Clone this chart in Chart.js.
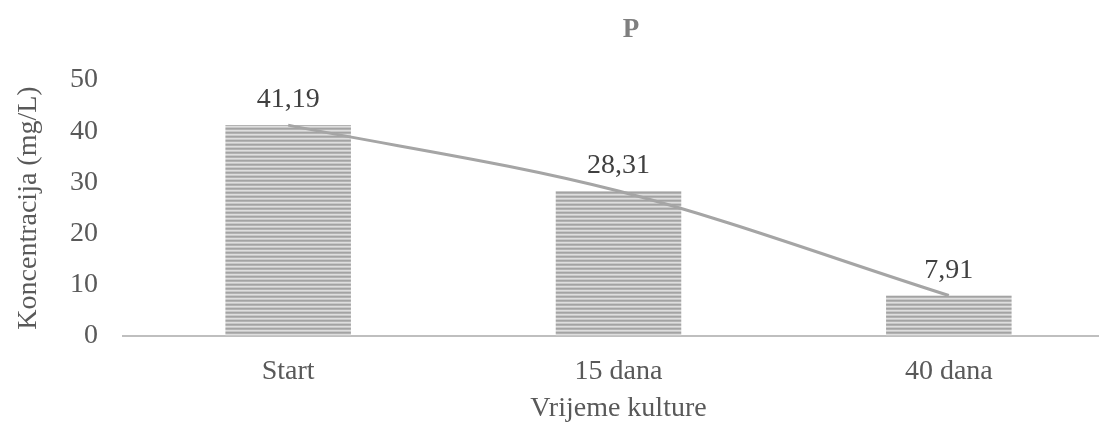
<!DOCTYPE html>
<html>
<head>
<meta charset="utf-8">
<script src="https://cdn.jsdelivr.net/npm/chart.js@4.4.1/dist/chart.umd.min.js"></script>
<style>
  html, body { margin: 0; padding: 0; background: #fff; overflow: hidden; }
  #wrap { width: 1125px; height: 425px; position: relative; }
</style>
</head>
<body>
<div id="wrap"><canvas id="c"></canvas></div>
<script>
const categories = ['Start', '15 dana', '40 dana'];
const values = [41.19, 28.31, 7.91];
const valueLabels = ['41,19', '28,31', '7,91'];
const yTicks = [0, 10, 20, 30, 40, 50];
const chartTitle = 'P';
const yTitle = 'Koncentracija (mg/L)';
const xTitle = 'Vrijeme kulture';

const FONT = "'Liberation Serif', 'Times New Roman', serif";

function makePattern() {
  const p = document.createElement('canvas');
  p.width = 4; p.height = 4;
  const g = p.getContext('2d');
  const rows = ['#a3a3a3', '#b3b3b3', '#dedede', '#c8c8c8'];
  rows.forEach((c, i) => { g.fillStyle = c; g.fillRect(0, i, 4, 1); });
  return document.getElementById('c').getContext('2d').createPattern(p, 'repeat');
}

const labelPlugin = {
  id: 'valueLabels',
  afterDatasetsDraw(chart) {
    const meta = chart.getDatasetMeta(1);
    const ctx = chart.ctx;
    ctx.save();
    ctx.font = "28px " + FONT;
    ctx.fillStyle = '#404040';
    ctx.textAlign = 'center';
    ctx.textBaseline = 'bottom';
    meta.data.forEach((el, i) => {
      ctx.fillText(valueLabels[i], el.x, el.y - 11);
    });
    // chart title
    ctx.font = "bold 27px " + FONT;
    ctx.fillStyle = '#7f7f7f';
    ctx.textBaseline = 'middle';
    ctx.fillText(chartTitle, 631, 30);
    ctx.restore();
  }
};

new Chart(document.getElementById('c'), {
  data: {
    labels: categories,
    datasets: [
      {
        type: 'line',
        data: values,
        borderColor: '#a5a5a5',
        borderWidth: 3,
        pointRadius: 0,
        cubicInterpolationMode: 'monotone',
        fill: false,
        order: 0
      },
      {
        type: 'bar',
        data: values,
        backgroundColor: makePattern(),
        borderWidth: 0,
        categoryPercentage: 1,
        barPercentage: 0.38,
        order: 1
      }
    ]
  },
  options: {
    responsive: true,
    maintainAspectRatio: false,
    animation: false,
    events: [],
    layout: { padding: { top: 80, right: 11, bottom: 0, left: 0 } },
    plugins: {
      legend: { display: false },
      tooltip: { enabled: false },
      title: { display: false }
    },
    scales: {
      x: {
        afterFit(scale) { scale.height = 89; },
        grid: { display: false, drawTicks: false },
        border: { display: true, color: '#bfbfbf', width: 2 },
        ticks: { color: '#595959', font: { family: FONT, size: 28 }, padding: 19 },
        title: { display: true, text: xTitle, color: '#595959', font: { family: FONT, size: 28 }, padding: { top: 0, bottom: 0 } }
      },
      y: {
        min: 0, max: 50,
        afterBuildTicks(scale) { scale.ticks = yTicks.map(v => ({ value: v })); },
        afterFit(scale) { scale.width = 123; },
        grid: { display: false, drawTicks: false },
        border: { display: false },
        ticks: { color: '#595959', font: { family: FONT, size: 28 }, padding: 25 },
        title: { display: true, text: yTitle, color: '#595959', font: { family: FONT, size: 28 }, padding: { top: 12, bottom: 0 } }
      }
    }
  },
  plugins: [labelPlugin]
});
</script>
</body>
</html>
